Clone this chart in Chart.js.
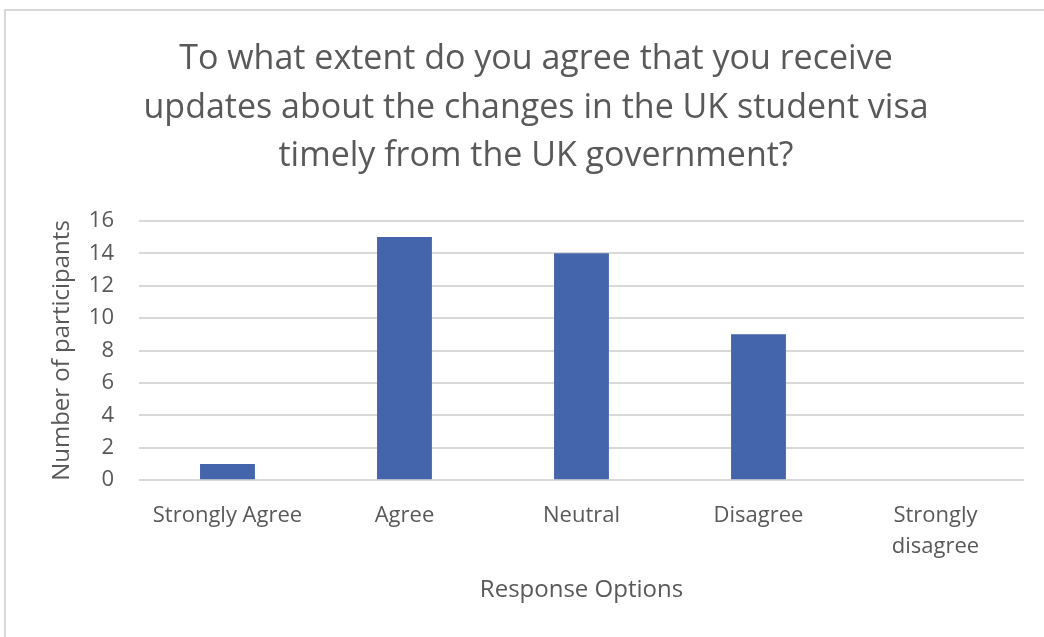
<!DOCTYPE html>
<html>
<head>
<meta charset="utf-8">
<script src="https://cdn.jsdelivr.net/npm/chart.js@4"></script>
<style>
  html, body { margin: 0; padding: 0; background: #fff; overflow: hidden; }
  #frame {
    position: absolute; left: 4px; top: 9px; width: 1100px; height: 700px;
    border-left: 2px solid #d9d9d9; border-top: 2px solid #d9d9d9;
  }
  #wrap { position: absolute; left: 0; top: 0; width: 1062px; height: 637px; }
</style>
</head>
<body>
<div id="frame"></div>
<div id="wrap"><canvas id="visaChart"></canvas></div>
<script>
const categories = ["Strongly Agree", "Agree", "Neutral", "Disagree", ["Strongly", "disagree"]];
const participants = [1, 15, 14, 9, 0];
const yTicks = [0, 2, 4, 6, 8, 10, 12, 14, 16];

const textColor = "#595959";
const gridColor = "#d9d9d9";
const barColor = "#4464ac";
const fontFamily = "'Open Sans', 'Noto Sans', sans-serif";

const ctx = document.getElementById("visaChart").getContext("2d");

new Chart(ctx, {
  type: "bar",
  data: {
    labels: categories,
    datasets: [
      {
        label: "Number of participants",
        data: participants,
        backgroundColor: barColor,
        borderWidth: 0,
        barPercentage: 0.31,
        categoryPercentage: 1
      }
    ]
  },
  options: {
    responsive: true,
    maintainAspectRatio: false,
    animation: false,
    layout: {
      padding: { left: 48, right: 38, top: 35, bottom: 32 }
    },
    plugins: {
      legend: { display: false },
      tooltip: { enabled: false },
      title: {
        display: true,
        text: [
          "To what extent do you agree that you receive",
          "updates about the changes in the UK student visa",
          "timely from the UK government?"
        ],
        color: textColor,
        font: { family: fontFamily, size: 34, weight: "normal", lineHeight: 1.43 },
        padding: { top: 0, bottom: 40 }
      }
    },
    scales: {
      x: {
        grid: { display: false },
        border: { display: false },
        ticks: {
          color: textColor,
          font: { family: fontFamily, size: 22, lineHeight: 1.41 },
          maxRotation: 0,
          padding: 12
        },
        title: {
          display: true,
          text: "Response Options",
          color: textColor,
          font: { family: fontFamily, size: 24 },
          padding: { top: 2, bottom: 0 }
        }
      },
      y: {
        min: 0,
        max: 16,
        afterBuildTicks: (axis) => {
          axis.ticks = yTicks.map((v) => ({ value: v }));
        },
        grid: { color: gridColor, lineWidth: 2, drawTicks: false },
        border: { display: false },
        ticks: {
          color: textColor,
          font: { family: fontFamily, size: 22 },
          padding: 25,
          autoSkip: false
        },
        title: {
          display: true,
          text: "Number of participants",
          color: textColor,
          font: { family: fontFamily, size: 24 },
          padding: { top: 0, bottom: -13 }
        }
      }
    }
  }
});
</script>
</body>
</html>
